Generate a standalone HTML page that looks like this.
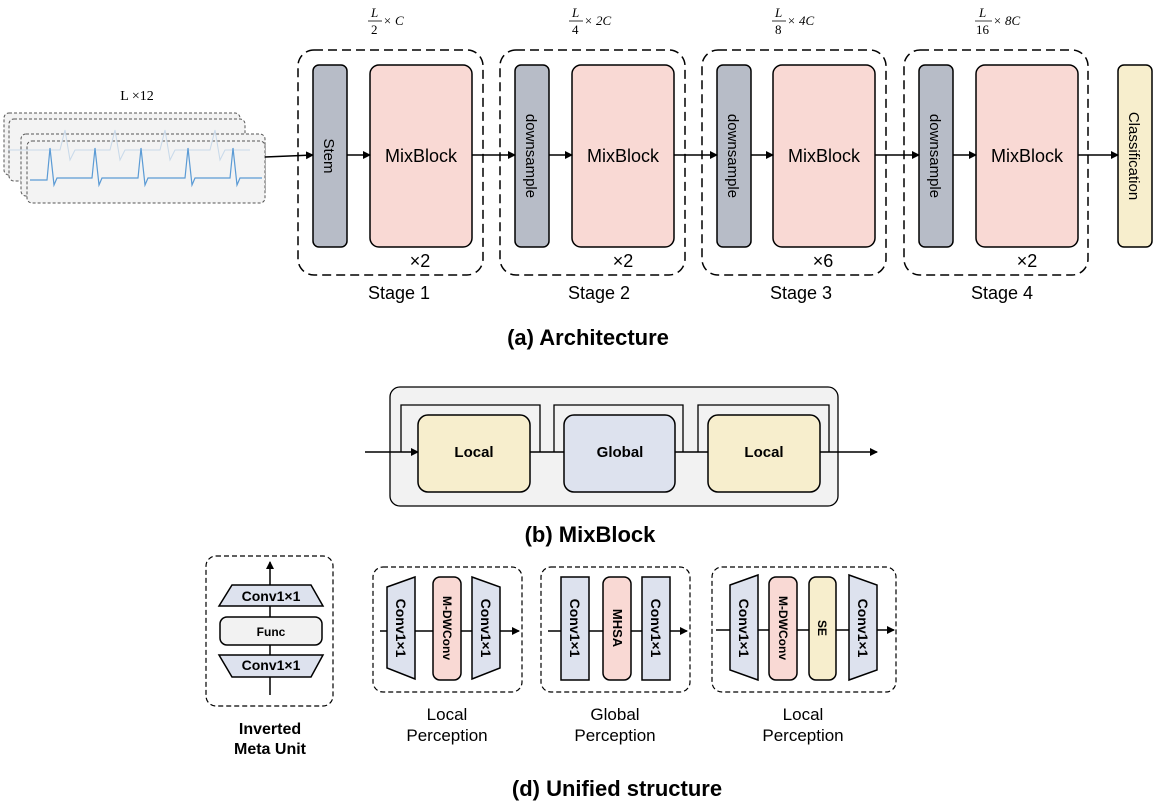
<!DOCTYPE html>
<html><head><meta charset="utf-8"><style>
html,body{margin:0;padding:0;background:#fff;}
svg{display:block;}
text{font-family:"Liberation Sans","DejaVu Sans",sans-serif;}
.s, .s text{font-family:"Liberation Serif",serif;}
</style></head><body>
<svg width="1156" height="805" viewBox="0 0 1156 805" xmlns="http://www.w3.org/2000/svg">
<defs>
<marker id="ar" markerWidth="8" markerHeight="8" refX="7" refY="4" orient="auto" markerUnits="userSpaceOnUse"><path d="M0,0 L8,4 L0,8 z" fill="#000"/></marker>
</defs>
<g stroke="#000" stroke-width="1.5" fill="none">
<g stroke="#555" stroke-width="1" stroke-dasharray="3,2" fill="#f3f3f3">
<rect x="4" y="113" width="236" height="62" rx="5"/>
<rect x="9" y="119" width="236" height="62" rx="5"/>
<rect x="21" y="134" width="244" height="62" rx="5"/>
<rect x="27" y="141" width="238" height="62" rx="5"/>
</g>
<path d="M8,150 L60,150 L65,130 L70,160 L75,150 L110,150 L115,130 L120,160 L125,150 L160,150 L165,130 L170,160 L175,150 L210,150 L215,130 L220,160 L225,150 L250,150" stroke="#c8d9ea" stroke-width="1"/>
<path d="M30,180 L47,180 L50,148 L54,185 L57,178 L92,178 L95,148 L99,185 L102,178 L138,178 L141,148 L145,185 L148,178 L185,178 L188,148 L192,185 L195,178 L230,178 L233,148 L237,185 L240,178 L262,178" stroke="#5b9bd5" stroke-width="1.2"/>
<path d="M265,157 L313,155" marker-end="url(#ar)"/>
<g stroke-dasharray="9,5">
<rect x="298" y="50" width="185" height="225" rx="16"/>
<rect x="500" y="50" width="185" height="225" rx="16"/>
<rect x="702" y="50" width="184" height="225" rx="16"/>
<rect x="904" y="50" width="184" height="225" rx="16"/>
</g>
<g fill="#b7bcc7">
<rect x="313" y="65" width="34" height="182" rx="6"/>
<rect x="515" y="65" width="34" height="182" rx="6"/>
<rect x="717" y="65" width="34" height="182" rx="6"/>
<rect x="919" y="65" width="34" height="182" rx="6"/>
</g>
<g fill="#f9d9d4">
<rect x="370" y="65" width="102" height="182" rx="9"/>
<rect x="572" y="65" width="102" height="182" rx="9"/>
<rect x="773" y="65" width="102" height="182" rx="9"/>
<rect x="976" y="65" width="102" height="182" rx="9"/>
</g>
<rect x="1118" y="65" width="34" height="182" rx="6" fill="#f7eecd"/>
<path d="M347,155 L370,155" marker-end="url(#ar)"/>
<path d="M472,155 L515,155" marker-end="url(#ar)"/>
<path d="M549,155 L572,155" marker-end="url(#ar)"/>
<path d="M674,155 L717,155" marker-end="url(#ar)"/>
<path d="M751,155 L773,155" marker-end="url(#ar)"/>
<path d="M875,155 L919,155" marker-end="url(#ar)"/>
<path d="M953,155 L976,155" marker-end="url(#ar)"/>
<path d="M1078,155 L1118,155" marker-end="url(#ar)"/>
<rect x="390" y="387" width="448" height="119" rx="10" fill="#f2f2f2" stroke-width="1.3"/>
<path d="M365,452 L418,452" marker-end="url(#ar)"/>
<path d="M401,452 L401,405 L540,405 L540,452 M554,452 L554,405 L683,405 L683,452 M698,452 L698,405 L829,405 L829,452" stroke-width="1.3"/>
<path d="M530,452 L564,452 M675,452 L708,452"/>
<path d="M820,452 L877,452" marker-end="url(#ar)"/>
<rect x="418" y="415" width="112" height="77" rx="10" fill="#f7eecd"/>
<rect x="564" y="415" width="111" height="77" rx="10" fill="#dde2ee"/>
<rect x="708" y="415" width="112" height="77" rx="10" fill="#f7eecd"/>
<g stroke-dasharray="5,3" stroke-width="1.2">
<rect x="206" y="556" width="127" height="150" rx="10"/>
<rect x="373" y="567" width="149" height="125" rx="10"/>
<rect x="541" y="567" width="149" height="125" rx="10"/>
<rect x="712" y="567" width="184" height="125" rx="10"/>
</g>
<path d="M270,695 L270,562" marker-end="url(#ar)"/>
<path d="M232,585 L311,585 L323,606 L219,606 z" fill="#dde2ee"/>
<rect x="220" y="617" width="102" height="28" rx="7" fill="#f2f2f2"/>
<path d="M219,655 L323,655 L311,677 L232,677 z" fill="#dde2ee"/>
<path d="M380,631 L519,631" marker-end="url(#ar)"/>
<path d="M387,587 L415,577 L415,679 L387,668 z" fill="#dde2ee"/>
<rect x="433" y="577" width="28" height="103" rx="7" fill="#f9d9d4"/>
<path d="M472,577 L500,587 L500,668 L472,679 z" fill="#dde2ee"/>
<path d="M548,631 L687,631" marker-end="url(#ar)"/>
<rect x="561" y="577" width="28" height="103" fill="#dde2ee"/>
<rect x="603" y="577" width="28" height="103" rx="7" fill="#f9d9d4"/>
<rect x="642" y="577" width="28" height="103" fill="#dde2ee"/>
<path d="M716,630 L894,630" marker-end="url(#ar)"/>
<path d="M730,585 L758,575 L758,680 L730,670 z" fill="#dde2ee"/>
<rect x="769" y="577" width="28" height="103" rx="7" fill="#f9d9d4"/>
<rect x="809" y="577" width="27" height="103" rx="7" fill="#f7eecd"/>
<path d="M849,575 L877,585 L877,670 L849,680 z" fill="#dde2ee"/>
</g>
<text x="137" y="100" class="s" font-size="14" text-anchor="middle">L ×12</text>
<g class="s" font-size="13" font-style="italic">
<text x="371" y="17">L</text><line x1="368" y1="21" x2="382" y2="21" stroke="#000" stroke-width="0.8"/><text x="371" y="34" font-style="normal">2</text><text x="383" y="25">× C</text>
<text x="572" y="17">L</text><line x1="569" y1="21" x2="583" y2="21" stroke="#000" stroke-width="0.8"/><text x="572" y="34" font-style="normal">4</text><text x="584" y="25">× 2C</text>
<text x="775" y="17">L</text><line x1="772" y1="21" x2="786" y2="21" stroke="#000" stroke-width="0.8"/><text x="775" y="34" font-style="normal">8</text><text x="787" y="25">× 4C</text>
<text x="979" y="17">L</text><line x1="975" y1="21" x2="992" y2="21" stroke="#000" stroke-width="0.8"/><text x="976" y="34" font-style="normal">16</text><text x="993" y="25">× 8C</text>
</g>
<g font-size="18" text-anchor="middle">
<text x="421" y="162">MixBlock</text><text x="623" y="162">MixBlock</text><text x="824" y="162">MixBlock</text><text x="1027" y="162">MixBlock</text>
<text x="420" y="267">×2</text><text x="623" y="267">×2</text><text x="823" y="267">×6</text><text x="1027" y="267">×2</text>
<text x="399" y="299">Stage 1</text><text x="599" y="299">Stage 2</text><text x="801" y="299">Stage 3</text><text x="1002" y="299">Stage 4</text>
</g>
<g font-size="15" text-anchor="middle">
<text transform="translate(324,156) rotate(90)">Stem</text>
<text transform="translate(526,156) rotate(90)">downsample</text>
<text transform="translate(728,156) rotate(90)">downsample</text>
<text transform="translate(930,156) rotate(90)">downsample</text>
<text transform="translate(1129,156) rotate(90)">Classification</text>
</g>
<g font-weight="bold" font-size="22" text-anchor="middle">
<text x="588" y="345">(a) Architecture</text>
<text x="590" y="542">(b) MixBlock</text>
<text x="617" y="796">(d) Unified structure</text>
</g>
<g font-weight="bold" font-size="15" text-anchor="middle">
<text x="474" y="457">Local</text><text x="620" y="457">Global</text><text x="764" y="457">Local</text>
</g>
<g font-weight="bold" font-size="14" text-anchor="middle">
<text x="271" y="601">Conv1×1</text><text x="271" y="670">Conv1×1</text>
<text x="271" y="636" font-size="12">Func</text>
<text x="270" y="734" font-size="16">Inverted</text><text x="270" y="754" font-size="16">Meta Unit</text>
</g>
<g font-weight="bold" font-size="14" text-anchor="middle">
<text transform="translate(396,628) rotate(90)">Conv1×1</text>
<text transform="translate(443,628) rotate(90)" font-size="12">M-DWConv</text>
<text transform="translate(481,628) rotate(90)">Conv1×1</text>
<text transform="translate(570,628) rotate(90)">Conv1×1</text>
<text transform="translate(613,628) rotate(90)" font-size="13">MHSA</text>
<text transform="translate(651,628) rotate(90)">Conv1×1</text>
<text transform="translate(739,628) rotate(90)">Conv1×1</text>
<text transform="translate(779,628) rotate(90)" font-size="12">M-DWConv</text>
<text transform="translate(818,628) rotate(90)" font-size="12">SE</text>
<text transform="translate(858,628) rotate(90)">Conv1×1</text>
</g>
<g font-size="17" text-anchor="middle">
<text x="447" y="720">Local</text><text x="447" y="741">Perception</text>
<text x="615" y="720">Global</text><text x="615" y="741">Perception</text>
<text x="803" y="720">Local</text><text x="803" y="741">Perception</text>
</g>
</svg>
</body></html>
